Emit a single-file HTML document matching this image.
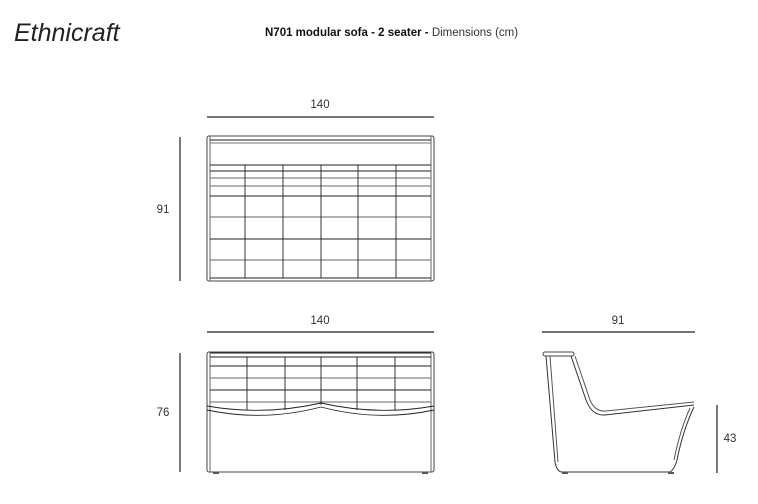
<!DOCTYPE html>
<html><head><meta charset="utf-8"><style>
html,body{margin:0;padding:0;background:#fff;width:758px;height:504px;overflow:hidden}
svg{display:block}
text{font-family:"Liberation Sans",sans-serif}
</style></head><body>
<svg width="758" height="504" viewBox="0 0 758 504" xmlns="http://www.w3.org/2000/svg">
<text x="14" y="41" font-family="'Liberation Serif',serif" font-style="italic" font-size="25" fill="#222">Ethnicraft</text>
<text x="265" y="36" font-size="11.5" fill="#111"><tspan font-weight="bold">N701 modular sofa - 2 seater -</tspan><tspan fill="#333"> Dimensions (cm)</tspan></text>

<g stroke="#222" fill="none">
<!-- top view -->
<line x1="207" y1="117" x2="434" y2="117" stroke-width="1.2"/>
<line x1="180" y1="137" x2="180" y2="281" stroke-width="1.2"/>
<rect x="207" y="136" width="227" height="145" rx="2" stroke="#444" stroke-width="1"/>
<line x1="210" y1="136" x2="210" y2="281" stroke="#666"/>
<line x1="431" y1="136" x2="431" y2="281" stroke="#666"/>
<g stroke-width="0.9">
<line x1="210" y1="140" x2="431" y2="140"/><line x1="210" y1="143" x2="431" y2="143" stroke="#777"/>
<line x1="210" y1="165" x2="431" y2="165"/><line x1="210" y1="171" x2="431" y2="171"/>
<line x1="210" y1="178" x2="431" y2="178" stroke="#666"/><line x1="210" y1="186" x2="431" y2="186" stroke="#666"/>
<line x1="210" y1="196" x2="431" y2="196"/><line x1="210" y1="217" x2="431" y2="217" stroke="#666"/>
<line x1="210" y1="239" x2="431" y2="239"/><line x1="210" y1="260" x2="431" y2="260" stroke="#666"/>
<line x1="210" y1="278" x2="431" y2="278"/>
<line x1="245" y1="165" x2="245" y2="278"/><line x1="283" y1="165" x2="283" y2="278"/>
<line x1="321" y1="165" x2="321" y2="278"/><line x1="358" y1="165" x2="358" y2="278"/>
<line x1="396" y1="165" x2="396" y2="278"/>
</g>
<!-- front view -->
<line x1="207" y1="332" x2="434" y2="332" stroke-width="1.2"/>
<line x1="180" y1="353" x2="180" y2="472" stroke-width="1.2"/>
<rect x="207" y="352" width="227" height="120" rx="2" stroke="#444"/>
<line x1="210" y1="352" x2="210" y2="472" stroke="#666"/>
<line x1="431" y1="352" x2="431" y2="472" stroke="#666"/>
<g stroke-width="0.9">
<line x1="210" y1="353" x2="431" y2="353"/><line x1="210" y1="357" x2="431" y2="357"/>
<line x1="210" y1="366" x2="431" y2="366"/><line x1="210" y1="378" x2="431" y2="378" stroke="#666"/>
<line x1="210" y1="390" x2="431" y2="390"/><line x1="210" y1="402" x2="431" y2="402" stroke="#666"/>
<line x1="247" y1="357" x2="247" y2="410"/><line x1="285" y1="357" x2="285" y2="410"/>
<line x1="321" y1="357" x2="321" y2="405"/><line x1="357" y1="357" x2="357" y2="410"/>
<line x1="395" y1="357" x2="395" y2="410"/>
<path d="M207 406 Q264 416 321 403 Q378 416 434 406"/>
<path d="M207 410 Q264 422 321 407 Q378 422 434 410"/>
</g>
<rect x="213" y="472" width="6" height="2" fill="#555" stroke="none"/>
<rect x="422" y="472" width="6" height="2" fill="#555" stroke="none"/>
<!-- side view -->
<line x1="542" y1="332" x2="695" y2="332" stroke-width="1.2"/>
<line x1="717" y1="405" x2="717" y2="473" stroke-width="1.2"/>
<rect x="543" y="352" width="31" height="4" rx="2" stroke="#444"/>
<path d="M546 356 L555 462 Q557 472 562 472 L670 472 Q674 470 677 460 Q683 430 694 407" stroke="#333"/>
<path d="M550 356 L558 462" stroke="#555"/>
<path d="M690 408 Q680 430 674 460" stroke="#555"/>
<path d="M571 356 L586 400 Q592 416 605 415 L694 405" stroke="#333"/>
<path d="M575 356 L590 400 Q595 412 606 411 L694 402" stroke="#555"/>
<rect x="562" y="472" width="6" height="2" fill="#555" stroke="none"/>
<rect x="668" y="472" width="6" height="2" fill="#555" stroke="none"/>
</g>
<g font-size="11.5" fill="#333" text-anchor="middle">
<text x="320" y="108">140</text>
<text x="163" y="213">91</text>
<text x="320" y="324">140</text>
<text x="163" y="416">76</text>
<text x="618" y="324">91</text>
<text x="730" y="442">43</text>
</g>
</svg>
</body></html>
